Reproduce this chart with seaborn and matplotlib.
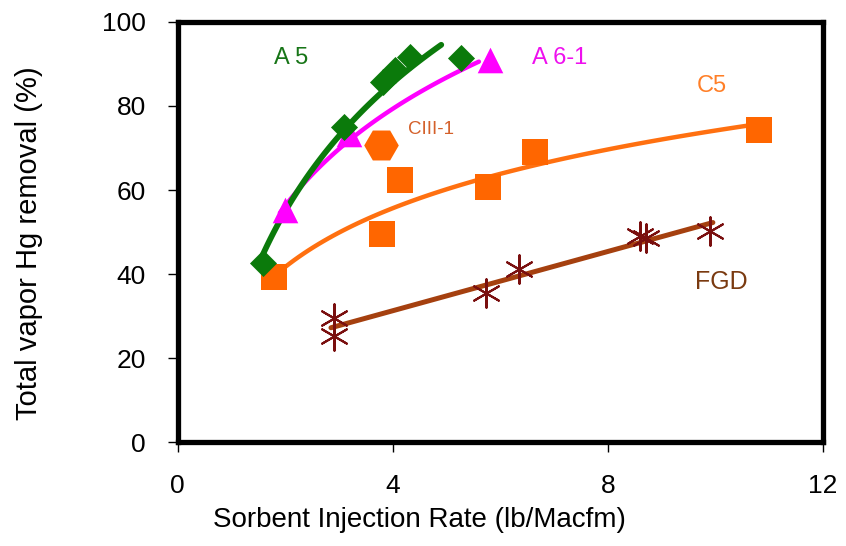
import numpy as np
import pandas as pd
import seaborn as sns
import matplotlib.pyplot as plt

# data
a5_x = [1.58, 3.1, 3.81, 4.04, 4.32, 5.27]
a5_y = [42.6, 75.0, 85.7, 88.6, 91.7, 91.4]
a61_x = [1.99, 3.18, 5.8]
a61_y = [55.2, 73.3, 91.0]
c5_x = [1.8, 3.8, 4.13, 5.77, 6.64, 10.8]
c5_y = [39.3, 49.5, 62.4, 60.7, 69.0, 74.3]
ciii_x = [3.78]
ciii_y = [70.7]
fgd_x = [2.9, 2.9, 5.73, 6.34, 8.6, 8.7, 9.9]
fgd_y = [29.5, 25.2, 35.5, 41.2, 49.0, 48.6, 50.2]

# x range covered by each trendline
a5_range = (1.55, 4.9)
a61_range = (1.9, 5.6)
c5_range = (1.8, 10.8)
fgd_range = (2.85, 9.95)

sns.set_style("white")
plt.rcParams['font.family'] = ['Liberation Sans', 'DejaVu Sans']
plt.rcParams['text.color'] = 'black'
plt.rcParams['axes.labelcolor'] = 'black'
plt.rcParams['xtick.color'] = 'black'
plt.rcParams['ytick.color'] = 'black'

fig = plt.figure(figsize=(8.46, 5.46), dpi=100)
ax = fig.add_axes([0.210, 0.190, 0.763, 0.770])


def log_trend(x, y, rng):
    b, a = np.polyfit(np.log(x), y, 1)
    xs = np.linspace(rng[0], rng[1], 100)
    return pd.DataFrame({'x': xs, 'y': a + b * np.log(xs)})


def lin_trend(x, y, rng):
    b, a = np.polyfit(x, y, 1)
    xs = np.array(rng)
    return pd.DataFrame({'x': xs, 'y': a + b * xs})


# trendlines
t = lin_trend(fgd_x, fgd_y, fgd_range)
sns.lineplot(data=t, x='x', y='y', color='#a5400f', lw=3.6, ax=ax, zorder=2)
t = log_trend(c5_x, c5_y, c5_range)
sns.lineplot(data=t, x='x', y='y', color='#ff7010', lw=3.2, ax=ax, zorder=2)
t = log_trend(a61_x, a61_y, a61_range)
sns.lineplot(data=t, x='x', y='y', color='#ff00ff', lw=3.2, ax=ax, zorder=2)
t = log_trend(a5_x, a5_y, a5_range)
sns.lineplot(data=t, x='x', y='y', color='#0b7a0b', lw=4.2, ax=ax, zorder=3)

# markers
sns.scatterplot(x=fgd_x, y=fgd_y, marker=(6, 2, 0), s=420, color='#7a0f0f',
                linewidth=1.5, ax=ax, zorder=4)
sns.scatterplot(x=c5_x, y=c5_y, marker='s', s=330, color='#ff6600',
                linewidth=0, ax=ax, zorder=4)
sns.scatterplot(x=ciii_x, y=ciii_y, marker='H', s=620, color='#ff6600',
                linewidth=0, ax=ax, zorder=4)
sns.scatterplot(x=a61_x, y=a61_y, marker='^', s=340, color='#ff00ff',
                linewidth=0, ax=ax, zorder=4)
sns.scatterplot(x=a5_x, y=a5_y, marker='D', s=190, color='#0b7a0b',
                linewidth=0, ax=ax, zorder=5)

# series labels
ax.text(1.80, 91.4, 'A 5', color='#177517', fontsize=17, ha='left', va='center')
ax.text(6.59, 91.4, 'A 6-1', color='#ee10ee', fontsize=17, ha='left', va='center')
ax.text(9.65, 84.8, 'C5', color='#ff7f27', fontsize=17, ha='left', va='center')
ax.text(4.28, 74.3, 'CIII-1', color='#d4602a', fontsize=13.5, ha='left', va='center')
ax.text(9.62, 38.1, 'FGD', color='#7a3a10', fontsize=18, ha='left', va='center')

ax.set_xlim(0, 12)
ax.set_ylim(0, 100)
ax.set_xticks([0, 4, 8, 12])
ax.set_yticks([0, 20, 40, 60, 80, 100])
ax.tick_params(axis='both', direction='out', length=7, width=1, labelsize=19,
               bottom=True, left=True)
ax.tick_params(axis='x', pad=16)
ax.tick_params(axis='y', pad=16)
for sp in ax.spines.values():
    sp.set_linewidth(3.8)
    sp.set_color('black')

ax.set_xlabel('Sorbent Injection Rate (lb/Macfm)', fontsize=20, va='center')
ax.xaxis.set_label_coords(0.375, -0.185)
ax.set_ylabel('Total vapor Hg removal (%)', fontsize=21, va='center')
ax.yaxis.set_label_coords(-0.231, 0.474)

fig.savefig('out.png', dpi=100)
